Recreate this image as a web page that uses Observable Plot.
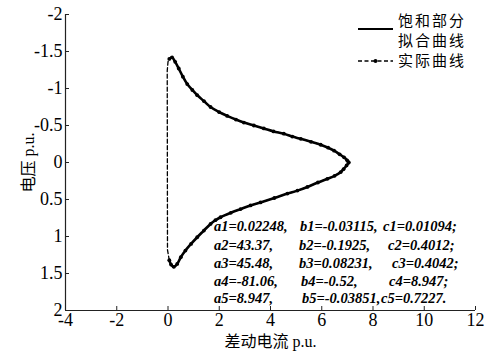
<!DOCTYPE html>
<html>
<head>
<meta charset="utf-8">
<script src="https://cdn.jsdelivr.net/npm/d3@7"></script>
<script src="https://cdn.jsdelivr.net/npm/@observablehq/plot@0.6"></script>
<style>
  html, body { margin: 0; padding: 0; background: #fff; }
  #chart { width: 486px; height: 352px; }
  #chart svg text { font-family: 'Liberation Serif', 'Times New Roman', 'Noto Sans CJK SC', serif; }
</style>
</head>
<body>
<div id="chart"></div>
<script>
// ---- data ----
const xTicks = [-4, -2, 0, 2, 4, 6, 8, 10, 12];
const xTickLabels = ["-4", "-2", "0", "2", "4", "6", "8", "10", "12"];
const yTicks = [-2, -1.5, -1, -0.5, 0, 0.5, 1, 1.5, 2];
const yTickLabels = ["-2", "-1.5", "-1", "-0.5", "0", "0.5", "1", "1.5", "2"];

// saturated upper branch (top cusp -> right tip)
const upperX = [0.05, 0.16, 0.28, 0.42, 0.58, 0.75, 0.95, 1.14, 1.40, 1.66, 2.00, 2.31, 2.65, 2.96, 3.35, 3.74, 4.12, 4.52, 4.85, 5.18, 5.58, 5.96, 6.25, 6.48, 6.70, 6.87, 6.99, 7.05];
const upperY = [-1.40, -1.42, -1.36, -1.27, -1.16, -1.06, -0.98, -0.91, -0.83, -0.75, -0.68, -0.63, -0.58, -0.54, -0.50, -0.46, -0.42, -0.39, -0.35, -0.32, -0.28, -0.24, -0.20, -0.16, -0.11, -0.07, -0.03, 0.00];
// saturated lower branch (right tip -> bottom cusp)
const lowerX = [7.05, 6.97, 6.85, 6.74, 6.50, 6.22, 5.85, 5.44, 5.05, 4.66, 4.15, 3.61, 3.22, 2.83, 2.45, 2.05, 1.85, 1.66, 1.40, 1.14, 0.90, 0.68, 0.50, 0.36, 0.23, 0.12, 0.05];
const lowerY = [0.00, 0.04, 0.09, 0.13, 0.18, 0.22, 0.27, 0.33, 0.38, 0.42, 0.48, 0.54, 0.58, 0.63, 0.68, 0.74, 0.78, 0.83, 0.92, 1.01, 1.10, 1.19, 1.28, 1.37, 1.41, 1.38, 1.32];
// unsaturated (linear) part of the actual curve, closing the loop
const closeX = [0.05, -0.02, -0.03, 0.00, 0.05];
const closeY = [1.32, 1.18, -1.24, -1.36, -1.40];

const legendLabels = ["饱和部分", "拟合曲线", "实际曲线"];
const annA = ["a1=0.02248,", "a2=43.37,", "a3=45.48,", "a4=-81.06,", "a5=8.947,"];
const annB = ["b1=-0.03115,", "b2=-0.1925,", "b3=0.08231,", "b4=-0.52,", "b5=-0.03851,"];
const annC = ["c1=0.01094;", "c2=0.4012;", "c3=0.4042;", "c4=8.947;", "c5=0.7227."];

// ---- build tables ----
const toPts = (xs, ys) => xs.map((x, i) => ({x, y: ys[i]}));
const upper = toPts(upperX, upperY);
const lower = toPts(lowerX, lowerY);
const actual = [...upper, ...lower.slice(1), ...toPts(closeX, closeY).slice(1)];
const fitted = [...upper.map(d => ({...d, s: "u"})), ...lower.map(d => ({...d, s: "l"}))];
const samples = [...upper, ...lower];

const serif = "'Liberation Serif', 'Times New Roman', 'Noto Sans CJK SC', serif";

const plot = Plot.plot({
  width: 486,
  height: 352,
  marginLeft: 65,
  marginRight: 11,
  marginTop: 14,
  marginBottom: 42,
  style: {fontFamily: serif, fontSize: "18px", color: "#000", background: "#fff"},
  x: {domain: [-4, 12]},
  y: {domain: [-2, 2], reverse: true},
  marks: [
    Plot.ruleX([-4], {stroke: "#222", strokeWidth: 1.2}),
    Plot.ruleY([2], {stroke: "#222", strokeWidth: 1.2}),
    // inward ticks
    Plot.axisX({ticks: xTicks, tickSize: 4, dy: -4, fill: "none", label: null, stroke: "#222"}),
    Plot.axisY({ticks: yTicks, tickSize: 4, dx: 4, fill: "none", label: null, stroke: "#222"}),
    // tick labels
    Plot.axisX({ticks: xTicks, tickSize: 0, tickPadding: 3, fontSize: 18, fontFamily: serif, fill: "#000",
      tickFormat: d => xTickLabels[xTicks.indexOf(d)],
      label: "差动电流 p.u.", labelAnchor: "center", labelArrow: "none", labelOffset: 36}),
    Plot.axisY({ticks: yTicks, tickSize: 0, tickPadding: 3, fontSize: 18, fontFamily: serif, fill: "#000",
      tickFormat: d => yTickLabels[yTicks.indexOf(d)],
      label: "电压 p.u.", labelAnchor: "center", labelArrow: "none", labelOffset: 43}),
    // actual curve (dashed with dots)
    Plot.line(actual, {x: "x", y: "y", stroke: "#000", strokeWidth: 1.3, strokeDasharray: "4,2.5", curve: "linear"}),
    Plot.dot(samples, {x: "x", y: "y", r: 1.9, fill: "#000", stroke: "none"}),
    // fitted saturation curve (solid)
    Plot.line(fitted, {x: "x", y: "y", z: "s", stroke: "#000", strokeWidth: 2.6, curve: "catmull-rom"})
  ]
});

document.getElementById("chart").appendChild(plot);

const svg = d3.select(plot);
svg.selectAll("text").attr("font-family", serif).style("font-family", serif);
svg.selectAll("[aria-label='x-axis label'] text, [aria-label='y-axis label'] text")
  .style("font-size", "16px");

// legend
const lg = svg.append("g").attr("font-size", 15)
  .attr("fill", "#000").attr("text-anchor", "start");
lg.append("line").attr("x1", 358).attr("x2", 393).attr("y1", 29).attr("y2", 29)
  .attr("stroke", "#000").attr("stroke-width", 2);
lg.append("text").attr("x", 398).attr("y", 26).attr("letter-spacing", 2).text(legendLabels[0]);
lg.append("text").attr("x", 398).attr("y", 46).attr("letter-spacing", 2).text(legendLabels[1]);
lg.append("line").attr("x1", 358).attr("x2", 393).attr("y1", 61).attr("y2", 61)
  .attr("stroke", "#000").attr("stroke-width", 1.3).attr("stroke-dasharray", "4,2.5");
lg.append("circle").attr("cx", 375.5).attr("cy", 61).attr("r", 2).attr("fill", "#000");
lg.append("text").attr("x", 398).attr("y", 66).attr("letter-spacing", 2).text(legendLabels[2]);

// annotation of fitted parameters
const ag = svg.append("g").attr("font-size", 14.5)
  .attr("font-weight", "bold").attr("font-style", "italic").attr("fill", "#000")
  .attr("text-anchor", "start");
const baseY = [231, 250, 268, 286, 303];
const colB = [300, 299, 299, 301, 302];
const colC = [383, 388, 392, 389, 381];
annA.forEach((t, i) => {
  ag.append("text").attr("x", 214).attr("y", baseY[i]).text(t);
  ag.append("text").attr("x", colB[i]).attr("y", baseY[i]).text(annB[i]);
  ag.append("text").attr("x", colC[i]).attr("y", baseY[i]).text(annC[i]);
});
</script>
</body>
</html>
